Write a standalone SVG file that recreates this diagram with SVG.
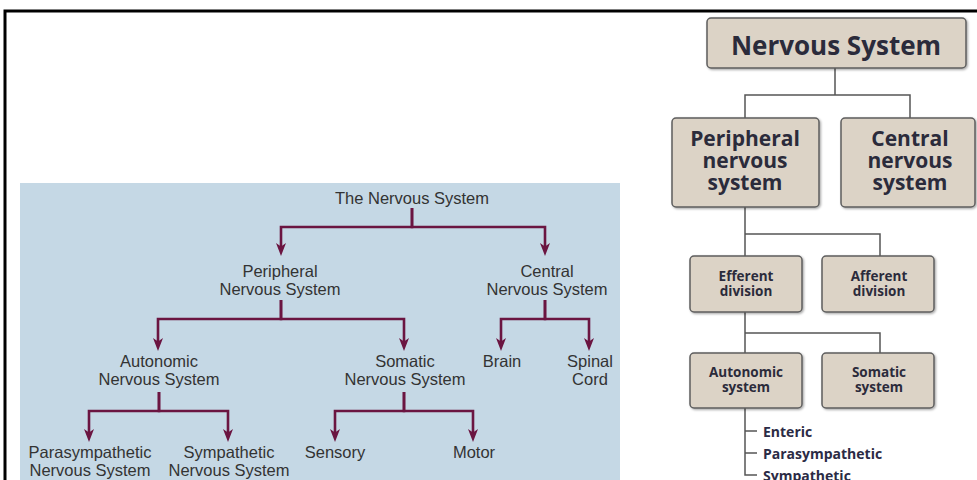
<svg xmlns="http://www.w3.org/2000/svg" width="977" height="480" viewBox="0 0 977 480">
<defs>
<marker id="arr" viewBox="0 0 13 10" markerWidth="13" markerHeight="10" refX="7" refY="5" orient="auto" markerUnits="userSpaceOnUse">
<path d="M0,0 L13,5 L0,10 L3.5,5 z" fill="#6b1541"/>
</marker>
<filter id="sh" x="-10%" y="-10%" width="130%" height="130%">
<feDropShadow dx="1.2" dy="1.2" stdDeviation="0.8" flood-color="#000" flood-opacity="0.35"/>
</filter>
</defs>
<style>
.lt{font-family:"Liberation Sans",Arial,sans-serif;font-size:16.5px;fill:#333;text-anchor:middle}
.arw{fill:none;stroke:#6b1541;stroke-width:2.6;marker-end:url(#arr)}
.box{fill:#dcd3c6;stroke:#5e5e5e;stroke-width:1.5;filter:url(#sh)}
.rt{font-family:"Open Sans","Noto Sans",sans-serif;font-weight:700;fill:#2b2b3b;text-anchor:middle}
.con{fill:none;stroke:#555;stroke-width:1.5}
.lst{font-family:"Open Sans","Noto Sans",sans-serif;font-weight:700;font-size:14px;fill:#2b2b45}
</style>
<rect width="977" height="480" fill="#fff"/>
<path d="M5,482 V11 H980" fill="none" stroke="#000" stroke-width="3"/>
<rect x="20" y="183" width="600" height="300" fill="#c5d8e5"/>

<g id="connectors">
<path class="arw" d="M412,208 V227 H281 V250"/>
<path class="arw" d="M412,208 V227 H545 V250"/>
<path class="arw" d="M281,300 V319 H158 V345"/>
<path class="arw" d="M281,300 V319 H404 V345"/>
<path class="arw" d="M545,300 V319 H501 V345"/>
<path class="arw" d="M545,300 V319 H589 V345"/>
<path class="arw" d="M159,392 V411 H89 V436"/>
<path class="arw" d="M159,392 V411 H228 V436"/>
<path class="arw" d="M404,392 V411 H335 V436"/>
<path class="arw" d="M404,392 V411 H473 V436"/>

<path class="con" d="M835,68 V95 M745,118 V95 H910 V118"/>
<path class="con" d="M745,207 V256 M745,234 H880 V256"/>
<path class="con" d="M745,312 V353 M745,333 H880 V353"/>
<path class="con" d="M745,408 V475 H757 M745,431 H757 M745,453 H757"/>
</g>

<g id="l-nervous"><text class="lt" x="412" y="204">The Nervous System</text></g>
<g id="l-peripheral"><text class="lt" x="280" y="277">Peripheral</text><text class="lt" x="280" y="295">Nervous System</text></g>
<g id="l-central"><text class="lt" x="547" y="277">Central</text><text class="lt" x="547" y="295">Nervous System</text></g>
<g id="l-autonomic"><text class="lt" x="159" y="367">Autonomic</text><text class="lt" x="159" y="385">Nervous System</text></g>
<g id="l-somatic"><text class="lt" x="405" y="367">Somatic</text><text class="lt" x="405" y="385">Nervous System</text></g>
<g id="l-brain"><text class="lt" x="502" y="367">Brain</text></g>
<g id="l-spinal"><text class="lt" x="590" y="367">Spinal</text><text class="lt" x="590" y="385">Cord</text></g>
<g id="l-para"><text class="lt" x="90" y="458">Parasympathetic</text><text class="lt" x="90" y="476">Nervous System</text></g>
<g id="l-symp"><text class="lt" x="229" y="458">Sympathetic</text><text class="lt" x="229" y="476">Nervous System</text></g>
<g id="l-sensory"><text class="lt" x="335" y="458">Sensory</text></g>
<g id="l-motor"><text class="lt" x="474" y="458">Motor</text></g>

<g id="r-nervous"><rect class="box" x="707" y="18" width="259" height="50" rx="4"/><text class="rt" x="836" y="55" font-size="26">Nervous System</text></g>
<g id="r-peripheral"><rect class="box" x="672" y="118" width="147" height="89" rx="4"/>
<text class="rt" x="745" y="146" font-size="21">Peripheral</text><text class="rt" x="745" y="168" font-size="21">nervous</text><text class="rt" x="745" y="190" font-size="21">system</text></g>
<g id="r-central"><rect class="box" x="841" y="118" width="134" height="89" rx="4"/>
<text class="rt" x="910" y="146" font-size="21">Central</text><text class="rt" x="910" y="168" font-size="21">nervous</text><text class="rt" x="910" y="190" font-size="21">system</text></g>
<g id="r-efferent"><rect class="box" x="690" y="256" width="112" height="56" rx="4"/>
<text class="rt" x="746" y="281" font-size="13.5">Efferent</text><text class="rt" x="746" y="296" font-size="13.5">division</text></g>
<g id="r-afferent"><rect class="box" x="822" y="256" width="112" height="56" rx="4"/>
<text class="rt" x="879" y="281" font-size="13.5">Afferent</text><text class="rt" x="879" y="296" font-size="13.5">division</text></g>
<g id="r-autonomic"><rect class="box" x="690" y="353" width="112" height="55" rx="4"/>
<text class="rt" x="746" y="377" font-size="13.5">Autonomic</text><text class="rt" x="746" y="392" font-size="13.5">system</text></g>
<g id="r-somatic"><rect class="box" x="822" y="353" width="112" height="55" rx="4"/>
<text class="rt" x="879" y="377" font-size="13.5">Somatic</text><text class="rt" x="879" y="392" font-size="13.5">system</text></g>
<g id="r-enteric"><text class="lst" x="763" y="437">Enteric</text></g>
<g id="r-para"><text class="lst" x="763" y="459">Parasympathetic</text></g>
<g id="r-symp"><text class="lst" x="763" y="481">Sympathetic</text></g>
</svg>
